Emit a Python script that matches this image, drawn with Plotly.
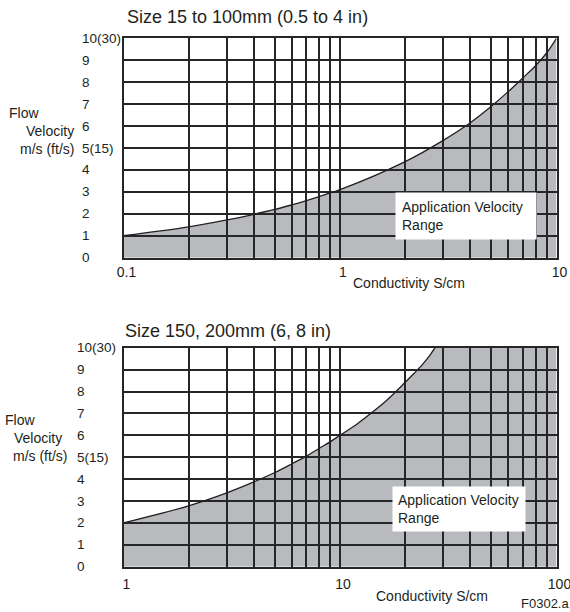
import plotly.graph_objects as go

# ---------------- data ----------------
top_x = [0.1, 0.2, 0.3, 0.4, 0.5, 0.6, 0.7, 0.8, 0.9, 1, 2, 3, 4, 5, 6, 7, 8, 9, 10]
top_y = [1.0, 1.4, 1.72, 1.98, 2.2, 2.41, 2.6, 2.78, 2.95, 3.1, 4.38, 5.35, 6.15, 6.9, 7.58, 8.2, 8.75, 9.33, 10.0]

bot_x = [1, 2, 3, 4, 5, 6, 7, 8, 9, 10, 12, 14, 16, 18, 20, 22, 24, 26, 27.5]
bot_y = [2.0, 2.78, 3.37, 3.87, 4.3, 4.7, 5.05, 5.4, 5.7, 6.0, 6.52, 7.03, 7.5, 7.97, 8.42, 8.83, 9.23, 9.65, 10.0]
bot_fill_end_x = [100]
bot_fill_end_y = [10]

top_decades = [0.1, 1, 10]
bot_decades = [1, 10, 100]
mantissas = [1, 2, 3, 4, 5, 6, 7, 8, 9]

y_vals = [0, 1, 2, 3, 4, 5, 6, 7, 8, 9, 10]
y_text = ["0", "1", "2", "3", "4", "5(15)", "6", "7", "8", "9", "10(30)"]

top_title = "Size 15 to 100mm (0.5 to 4 in)"
bot_title = "Size 150, 200mm (6, 8 in)"
x_title = "Conductivity S/cm"
y_title_lines = ["Flow", "Velocity", "m/s (ft/s)"]
range_label = "Application Velocity<br>Range"
fig_code = "F0302.a"

# ---------------- helpers ----------------
W, H = 570, 612
FONT = "Liberation Sans, Arial, sans-serif"
INK = "#231f20"
GRID = "#262626"
FILL = "rgba(37,41,49,0.32)"


def px(x):
    return x / W


def py(y):
    return 1 - y / H


def grid_ticks(decades):
    vals, text = [], []
    for d in decades[:-1]:
        for m in mantissas:
            vals.append(d * m)
            text.append(f"{d:g}" if m == 1 else "")
    vals.append(decades[-1])
    text.append(f"{decades[-1]:g}")
    return vals, text


fig = go.Figure()

# top panel
fig.add_trace(go.Scatter(x=top_x, y=top_y, mode="lines", fill="tozeroy",
                         fillcolor=FILL, line=dict(width=0, shape="spline"),
                         xaxis="x", yaxis="y", hoverinfo="skip", showlegend=False))
fig.add_trace(go.Scatter(x=top_x, y=top_y, mode="lines",
                         line=dict(color=INK, width=1.3, shape="spline"),
                         xaxis="x", yaxis="y", showlegend=False))
# bottom panel
fig.add_trace(go.Scatter(x=bot_x + bot_fill_end_x, y=bot_y + bot_fill_end_y, mode="lines",
                         fill="tozeroy", fillcolor=FILL, line=dict(width=0, shape="spline"),
                         xaxis="x2", yaxis="y2", hoverinfo="skip", showlegend=False))
fig.add_trace(go.Scatter(x=bot_x, y=bot_y, mode="lines",
                         line=dict(color=INK, width=1.3, shape="spline"),
                         xaxis="x2", yaxis="y2", showlegend=False))

xdom = [px(123.5), px(556.5)]
top_dom = [py(257.7), py(38.3)]
bot_dom = [py(566.7), py(347.7)]

tv, tt = grid_ticks(top_decades)
bv, bt = grid_ticks(bot_decades)

axis_common = dict(showgrid=True, gridcolor=GRID, gridwidth=1.8, zeroline=False,
                   showline=True, linecolor=GRID, linewidth=2, mirror=True,
                   ticks="", ticklen=0, automargin=False, ticklabeloverflow="allow",
                   tickfont=dict(family=FONT, size=14, color=INK),
                   fixedrange=True)

fig.update_layout(
    width=W, height=H,
    margin=dict(l=0, r=0, t=0, b=0, autoexpand=False),
    paper_bgcolor="white", plot_bgcolor="white",
    showlegend=False,
    xaxis=dict(type="log", range=[-1, 1], domain=xdom, anchor="y",
               tickmode="array", tickvals=tv, ticktext=tt,
               ticklabelshift=3, ticklabelstandoff=0, **axis_common),
    yaxis=dict(range=[0, 10], domain=top_dom, anchor="x",
               tickmode="array", tickvals=y_vals, showticklabels=False, **axis_common),
    xaxis2=dict(type="log", range=[0, 2], domain=xdom, anchor="y2",
                tickmode="array", tickvals=bv, ticktext=bt,
                ticklabelshift=3, ticklabelstandoff=3, **axis_common),
    yaxis2=dict(range=[0, 10], domain=bot_dom, anchor="x2",
                tickmode="array", tickvals=y_vals, showticklabels=False, **axis_common),
)

ann = []
tf = dict(family=FONT, size=14, color=INK)
tick_f = dict(family=FONT, size=13.5, color=INK)

# y tick labels (left aligned as in the original)
for yref, xl in (("y", 79.5), ("y2", 74.5)):
    for v, t in zip(y_vals, y_text):
        ann.append(dict(x=px(xl), xref="paper", y=v, yref=yref, text=t, showarrow=False,
                        xanchor="left", yanchor="middle", font=tick_f))

# panel titles
ann.append(dict(x=px(125), y=py(16.7), xref="paper", yref="paper", text=top_title,
                showarrow=False, xanchor="left", yanchor="middle",
                font=dict(family=FONT, size=18, color=INK)))
ann.append(dict(x=px(122.7), y=py(330.7), xref="paper", yref="paper", text=bot_title,
                showarrow=False, xanchor="left", yanchor="middle",
                font=dict(family=FONT, size=18, color=INK)))

# y axis titles
for base, flow_x, vel_x, unit_x in ((113, 7.3, 76, 76), (420, 3, 64, 69)):
    ann.append(dict(x=px(flow_x), y=py(base), xref="paper", yref="paper", text=y_title_lines[0],
                    showarrow=False, xanchor="left", yanchor="middle", font=tf))
    ann.append(dict(x=px(vel_x), y=py(base + 17.5), xref="paper", yref="paper", text=y_title_lines[1],
                    showarrow=False, xanchor="right", yanchor="middle", font=tf))
    ann.append(dict(x=px(unit_x), y=py(base + 35.5), xref="paper", yref="paper", text=y_title_lines[2],
                    showarrow=False, xanchor="right", yanchor="middle", font=tf))

# x axis titles
ann.append(dict(x=px(409), y=py(282.7), xref="paper", yref="paper", text=x_title,
                showarrow=False, xanchor="center", yanchor="middle", font=tf))
ann.append(dict(x=px(432), y=py(595.7), xref="paper", yref="paper", text=x_title,
                showarrow=False, xanchor="center", yanchor="middle", font=tf))

# range labels (white boxes)
ann.append(dict(x=0.628, xref="x domain", y=3.0, yref="y", text=range_label, showarrow=False,
                xanchor="left", yanchor="top", align="left", bgcolor="white", borderpad=6,
                width=128, font=tf))
ann.append(dict(x=0.621, xref="x2 domain", y=3.68, yref="y2", text=range_label, showarrow=False,
                xanchor="left", yanchor="top", align="left", bgcolor="white", borderpad=5,
                width=122, font=tf))

# figure code
ann.append(dict(x=px(571), y=py(603), xref="paper", yref="paper", text=fig_code,
                showarrow=False, xanchor="right", yanchor="middle",
                font=dict(family=FONT, size=13, color=INK)))

fig.update_layout(annotations=ann)
fig.write_html("out.html", config={"displayModeBar": False},
               post_script="document.body.style.margin='0px';document.body.style.overflow='hidden';")
